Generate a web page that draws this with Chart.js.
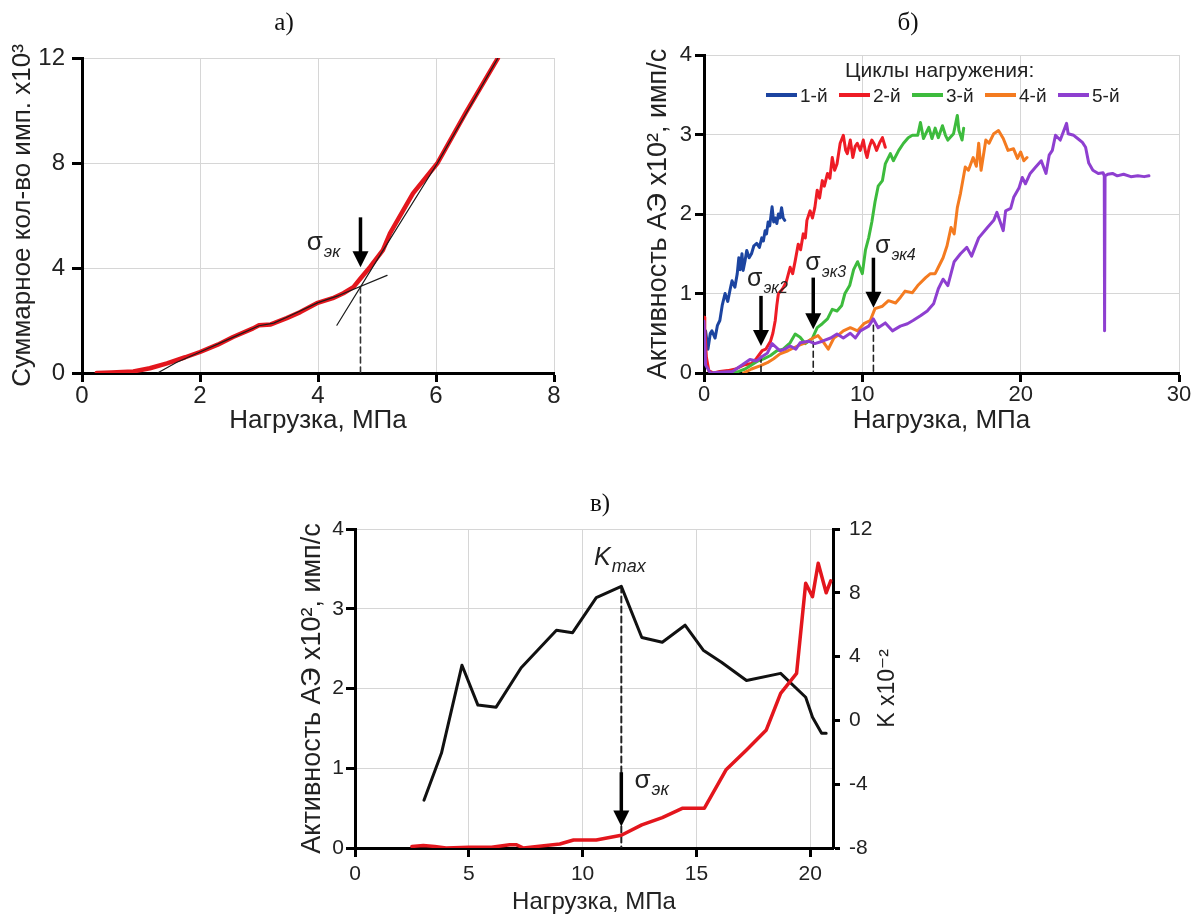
<!DOCTYPE html>
<html lang="ru">
<head>
<meta charset="utf-8">
<title>Акустическая эмиссия</title>
<script src="https://cdn.jsdelivr.net/npm/chart.js@4.4.1/dist/chart.umd.min.js"></script>
<style>
  body { margin: 0; background: #fff; }
  #page { position: relative; width: 1192px; height: 917px; overflow: hidden; }
  #page canvas { position: absolute; left: 0; top: 0; }
  .panel-tag { position: absolute; font-family: "Liberation Serif", "Times New Roman", serif; font-size: 25px; color: #111; transform: translate(-50%, -50%); }
</style>
</head>
<body>
<div id="page">
  <canvas id="chart-a" width="1192" height="917"></canvas>
  <canvas id="chart-b" width="1192" height="917"></canvas>
  <canvas id="chart-c" width="1192" height="917"></canvas>
  <div class="panel-tag" style="left:284px; top:22px">а)</div>
  <div class="panel-tag" style="left:908px; top:22px">б)</div>
  <div class="panel-tag" style="left:600px; top:503px">в)</div>
</div>
<script>
const SANS = '"Liberation Sans", Arial, "DejaVu Sans", sans-serif';

// а) суммарное кол-во импульсов
const loadA = [0.25, 0.5, 0.87, 1.15, 1.44, 1.75, 2.0, 2.3, 2.56, 2.9, 3.0, 3.2, 3.47, 3.7, 3.98, 4.25, 4.43, 4.6, 4.72, 4.88, 5.1, 5.22, 5.61, 6.02, 6.5, 7.05];
const countA = [0, 0.02, 0.06, 0.18, 0.37, 0.6, 0.8, 1.08, 1.37, 1.7, 1.82, 1.85, 2.09, 2.32, 2.66, 2.85, 3.04, 3.27, 3.6, 4.03, 4.68, 5.32, 6.84, 7.98, 9.9, 12];
const fitLoadA = [1.28, 1.6, 2.0, 2.5, 3.0, 3.25, 3.5, 4.0, 4.35, 5.17];
const fitCountA = [0, 0.4, 0.8, 1.3, 1.8, 1.9, 2.15, 2.68, 2.95, 3.72];
const tangentLoadA = [4.32, 5.0, 6.02, 7.05];
const tangentCountA = [1.82, 4.3, 7.98, 12];
const markLoadA = [4.72, 4.72];
const markCountA = [0, 3.3];
const xTicksA = [0, 2, 4, 6, 8];
const yTicksA = [0, 4, 8, 12];

// б) активность АЭ по циклам нагружения
const cycleNames = ['1-й', '2-й', '3-й', '4-й', '5-й'];
const cycle1Load = [0, 0.1, 0.25, 0.4, 0.5, 0.7, 0.85, 1.0, 1.15, 1.33, 1.5, 1.65, 1.77, 1.95, 2.1, 2.2, 2.28, 2.4, 2.47, 2.6, 2.7, 2.85, 3.0, 3.15, 3.33, 3.5, 3.65, 3.75, 3.86, 3.95, 4.05, 4.15, 4.3, 4.4, 4.5, 4.6, 4.7, 4.8, 4.9, 5.0, 5.1];
const cycle1Rate = [0.3, 0.53, 0.3, 0.5, 0.53, 0.44, 0.6, 0.66, 0.85, 1.0, 0.9, 1.05, 1.16, 1.08, 1.25, 1.45, 1.3, 1.5, 1.29, 1.42, 1.54, 1.45, 1.5, 1.6, 1.63, 1.58, 1.7, 1.66, 1.79, 1.75, 1.9, 1.85, 2.09, 1.9, 1.95, 1.88, 2.0, 1.95, 2.08, 1.95, 1.92];
const cycle2Load = [0, 0.05, 0.15, 0.3, 0.6, 1.0, 1.5, 2.0, 2.5, 3.0, 3.3, 3.67, 3.9, 4.2, 4.35, 4.5, 4.6, 4.7, 4.85, 5.0, 5.2, 5.44, 5.6, 5.76, 5.95, 6.1, 6.27, 6.4, 6.5, 6.7, 6.85, 7.0, 7.15, 7.3, 7.47, 7.6, 7.8, 7.95, 8.1, 8.25, 8.4, 8.6, 8.8, 8.95, 9.05, 9.24, 9.4, 9.55, 9.68, 9.87, 10.06, 10.2, 10.3, 10.45, 10.6, 10.75, 10.9, 11.1, 11.27, 11.45];
const cycle2Rate = [0.7, 0.55, 0.2, 0.03, 0.0, 0.02, 0.03, 0.05, 0.1, 0.12, 0.18, 0.28, 0.3, 0.4, 0.5, 0.66, 0.85, 1.0, 1.03, 1.07, 1.15, 1.33, 1.25, 1.41, 1.62, 1.55, 1.75, 1.7, 1.92, 2.04, 1.95, 2.08, 2.3, 2.2, 2.42, 2.35, 2.51, 2.45, 2.71, 2.55, 2.63, 2.89, 2.99, 2.8, 2.76, 2.93, 2.71, 2.85, 2.89, 2.8, 2.93, 2.78, 2.71, 2.85, 2.93, 2.88, 2.8, 2.9, 2.96, 2.84];
const cycle3Load = [1.8, 2.2, 2.6, 3.0, 3.4, 3.8, 4.2, 4.6, 5.0, 5.44, 5.76, 6.07, 6.4, 6.83, 7.15, 7.47, 7.8, 8.1, 8.4, 8.7, 8.9, 9.2, 9.45, 9.7, 10.0, 10.2, 10.4, 10.6, 10.8, 11.0, 11.27, 11.45, 11.77, 11.96, 12.3, 12.6, 12.9, 13.16, 13.5, 13.67, 13.86, 14.2, 14.4, 14.6, 14.8, 15.06, 15.25, 15.4, 15.76, 16.0, 16.1, 16.3, 16.4];
const cycle3Rate = [0.0, 0.02, 0.05, 0.1, 0.15, 0.18, 0.22, 0.28, 0.3, 0.38, 0.49, 0.45, 0.37, 0.43, 0.57, 0.62, 0.68, 0.8, 0.78, 0.85, 1.0, 1.1, 1.3, 1.4, 1.25, 1.55, 1.7, 1.9, 2.15, 2.35, 2.42, 2.63, 2.76, 2.67, 2.8, 2.89, 2.96, 2.99, 2.99, 3.15, 2.95, 3.09, 2.95, 3.08, 2.96, 3.11, 2.99, 2.93, 3.01, 3.24, 3.05, 2.93, 3.08];
const cycle4Load = [2.5, 3.0, 3.54, 4.0, 4.4, 4.8, 5.3, 5.9, 6.4, 6.9, 7.2, 7.5, 7.85, 8.2, 8.5, 8.8, 9.24, 9.7, 10.1, 10.5, 10.8, 11.27, 11.65, 12.1, 12.4, 12.7, 13.16, 13.5, 14.0, 14.3, 14.6, 14.8, 15.1, 15.35, 15.6, 15.8, 16.0, 16.2, 16.5, 16.7, 17.0, 17.2, 17.35, 17.5, 17.8, 18.0, 18.3, 18.6, 18.9, 19.2, 19.55, 19.8, 20.0, 20.2, 20.4];
const cycle4Rate = [0.0, 0.05, 0.09, 0.13, 0.18, 0.24, 0.28, 0.34, 0.38, 0.44, 0.47, 0.4, 0.3, 0.44, 0.48, 0.53, 0.57, 0.53, 0.62, 0.66, 0.81, 0.84, 0.91, 0.88, 0.95, 1.03, 1.01, 1.1, 1.2, 1.25, 1.25, 1.33, 1.45, 1.6, 1.83, 1.75, 2.08, 2.26, 2.59, 2.55, 2.71, 2.6, 2.89, 2.55, 2.93, 2.89, 3.01, 3.05, 2.95, 2.8, 2.82, 2.7, 2.78, 2.67, 2.71];
const cycle5Load = [0, 0.1, 0.4, 1.0, 1.8, 2.4, 2.9, 3.3, 3.7, 4.0, 4.3, 4.8, 5.1, 5.44, 5.8, 6.07, 6.6, 7.0, 7.47, 8.0, 8.4, 8.8, 9.24, 9.56, 9.87, 10.4, 10.7, 11.0, 11.45, 11.9, 12.4, 12.85, 13.2, 13.67, 14.1, 14.5, 14.8, 15.1, 15.4, 15.8, 16.2, 16.6, 16.9, 17.35, 17.9, 18.3, 18.5, 18.9, 19.05, 19.37, 19.56, 19.9, 20.1, 20.3, 20.6, 20.95, 21.3, 21.6, 21.8, 22.0, 22.2, 22.5, 22.9, 23.0, 23.35, 23.6, 23.9, 24.1, 24.3, 24.56, 24.9, 25.2, 25.28, 25.3, 25.33, 25.5, 25.8, 26.1, 26.5, 26.96, 27.4, 27.8, 28.1];
const cycle5Rate = [0.65, 0.1, 0.0, 0.01, 0.02, 0.1, 0.17, 0.15, 0.21, 0.25, 0.37, 0.28, 0.3, 0.34, 0.3, 0.38, 0.4, 0.37, 0.4, 0.44, 0.49, 0.44, 0.5, 0.44, 0.53, 0.59, 0.68, 0.57, 0.63, 0.53, 0.59, 0.62, 0.66, 0.72, 0.78, 0.87, 1.06, 1.18, 1.1, 1.4, 1.5, 1.58, 1.47, 1.7, 1.83, 1.92, 2.02, 1.79, 2.04, 2.07, 2.21, 2.33, 2.46, 2.38, 2.51, 2.59, 2.67, 2.51, 2.74, 2.8, 2.99, 2.93, 3.14, 3.01, 2.99, 2.95, 2.9, 2.84, 2.64, 2.55, 2.51, 2.52, 2.48, 0.53, 2.48, 2.5, 2.51, 2.48, 2.5, 2.47, 2.48, 2.47, 2.48];
const critLoadB = [3.6, 6.9, 10.7];
const critFootB = [0.21, 0.4, 0.6];
const critArrowTopB = [0.97, 1.2, 1.45];
const critArrowTipB = [0.34, 0.55, 0.82];
const xTicksB = [0, 10, 20, 30];
const yTicksB = [0, 1, 2, 3, 4];

// в) активность АЭ и коэффициент K
const loadK = [3.03, 3.8, 4.7, 5.4, 6.2, 7.3, 8.85, 9.56, 10.6, 11.7, 12.6, 13.5, 14.5, 15.3, 16.1, 17.2, 18.7, 19.8, 20.1, 20.5, 20.7];
const kValues = [-5.0, -2.05, 3.46, 0.96, 0.83, 3.3, 5.65, 5.5, 7.7, 8.4, 5.2, 4.9, 5.97, 4.4, 3.65, 2.5, 2.95, 1.45, 0.2, -0.8, -0.8];
const loadAE = [2.5, 3.0, 3.5, 4.0, 5.0, 6.0, 6.8, 7.1, 7.4, 8.0, 9.0, 9.6, 10.6, 11.7, 12.6, 13.5, 14.4, 15.35, 16.3, 17.2, 18.07, 18.7, 19.4, 19.8, 20.1, 20.35, 20.7, 20.9];
const activityAE = [0.02, 0.03, 0.02, 0.0, 0.01, 0.01, 0.04, 0.04, 0.0, 0.02, 0.05, 0.1, 0.1, 0.16, 0.29, 0.38, 0.5, 0.5, 0.98, 1.23, 1.48, 1.94, 2.19, 3.32, 3.15, 3.57, 3.2, 3.35];
const kMaxLoad = [11.7, 11.7];
const kMaxLine = [8.4, -8];
const xTicksC = [0, 5, 10, 15, 20];
const xMaxC = 21;
const yTicksC = [0, 1, 2, 3, 4];
const kTicksC = [-8, -4, 0, 4, 8, 12];

function pts(xs, ys) {
  return xs.map((x, i) => ({ x: x, y: ys[i] }));
}

function font(size, style) {
  return (style ? style + ' ' : '') + size + 'px ' + SANS;
}

function linearAxis(cfg) {
  return {
    type: 'linear',
    position: cfg.position,
    min: cfg.ticks[0],
    max: cfg.max !== undefined ? cfg.max : cfg.ticks[cfg.ticks.length - 1],
    afterBuildTicks: s => { s.ticks = cfg.ticks.map(v => ({ value: v })); },
    afterFit: s => {
      if (s.isHorizontal()) s.height = cfg.size;
      else s.width = cfg.size;
    },
    grid: {
      drawOnChartArea: cfg.grid !== false,
      color: '#d6d6d6',
      lineWidth: 1,
      tickColor: '#000',
      tickWidth: 3,
      tickLength: cfg.tickLength || 9
    },
    border: { color: '#000', width: 3 },
    ticks: { font: { family: SANS, size: cfg.tickSize || 21 }, color: '#222', padding: cfg.tickPad, maxRotation: 0, autoSkip: false },
    title: { display: !!cfg.title, text: cfg.title, font: { family: SANS, size: cfg.titleSize || 23 }, color: '#222', padding: 0 }
  };
}

function drawArrow(ctx, x, yTop, yTip) {
  const head = 16;
  const half = 8;
  ctx.strokeStyle = '#000';
  ctx.fillStyle = '#000';
  ctx.lineWidth = 3.5;
  ctx.beginPath();
  ctx.moveTo(x, yTop);
  ctx.lineTo(x, yTip - head + 2);
  ctx.stroke();
  ctx.beginPath();
  ctx.moveTo(x - half, yTip - head);
  ctx.lineTo(x + half, yTip - head);
  ctx.lineTo(x, yTip);
  ctx.closePath();
  ctx.fill();
}

function drawNote(ctx, x, y, n) {
  ctx.fillStyle = '#222';
  ctx.textAlign = 'left';
  ctx.textBaseline = 'alphabetic';
  ctx.font = font(n.size || 26, n.italic ? 'italic' : '');
  ctx.fillText(n.main, x, y);
  const w = ctx.measureText(n.main).width;
  ctx.font = font(n.subSize || 17, 'italic');
  ctx.fillText(n.sub, x + w + 1, y + 7);
}

function drawLegend(ctx, chart, lg) {
  const area = chart.chartArea;
  ctx.fillStyle = '#222';
  ctx.textAlign = 'left';
  ctx.textBaseline = 'alphabetic';
  ctx.font = font(21);
  ctx.fillText(lg.title, area.left + lg.titleDx, area.top + lg.titleDy);
  ctx.font = font(19);
  chart.data.datasets.forEach((ds, i) => {
    if (!ds.label) return;
    const x0 = area.left + lg.dx + i * lg.step;
    const y0 = area.top + lg.dy;
    ctx.strokeStyle = ds.borderColor;
    ctx.lineWidth = 4;
    ctx.beginPath();
    ctx.moveTo(x0, y0);
    ctx.lineTo(x0 + 31, y0);
    ctx.stroke();
    ctx.fillText(ds.label, x0 + 34, y0 + 7);
  });
}

const marks = {
  id: 'marks',
  afterDatasetsDraw(chart, args, opts) {
    const ctx = chart.ctx;
    const xs = chart.scales.x;
    ctx.save();
    (opts.arrows || []).forEach(a => {
      const ys = chart.scales[a.axis || 'y'];
      drawArrow(ctx, xs.getPixelForValue(a.x), ys.getPixelForValue(a.from), ys.getPixelForValue(a.to));
    });
    (opts.notes || []).forEach(n => {
      const ys = chart.scales[n.axis || 'y'];
      drawNote(ctx, xs.getPixelForValue(n.x), ys.getPixelForValue(n.y), n);
    });
    if (opts.legend) drawLegend(ctx, chart, opts.legend);
    if (opts.sideTitle) {
      const area = chart.chartArea;
      ctx.translate(area.right + opts.sideTitle.dx, (area.top + area.bottom) / 2);
      ctx.rotate(-Math.PI / 2);
      ctx.textAlign = 'center';
      ctx.textBaseline = 'middle';
      ctx.fillStyle = '#222';
      ctx.font = font(23);
      ctx.fillText(opts.sideTitle.text, 0, 0);
    }
    ctx.restore();
  }
};

function options(padding, scales, marksOpts) {
  return {
    responsive: false,
    animation: false,
    devicePixelRatio: 1,
    events: [],
    layout: { padding: padding },
    elements: {
      point: { radius: 0 },
      line: { tension: 0, fill: false, borderCapStyle: 'round', borderJoinStyle: 'round' }
    },
    scales: scales,
    plugins: { legend: { display: false }, tooltip: { enabled: false }, marks: marksOpts }
  };
}

// а)
new Chart(document.getElementById('chart-a'), {
  type: 'line',
  plugins: [marks],
  data: {
    datasets: [
      { data: pts(fitLoadA, fitCountA), borderColor: '#1b1b1b', borderWidth: 1.2 },
      { data: pts(tangentLoadA, tangentCountA), borderColor: '#1b1b1b', borderWidth: 1.2 },
      { data: pts(markLoadA, markCountA), borderColor: '#333', borderWidth: 1.6, borderDash: [6, 4] },
      { data: pts(loadA, countA), borderColor: '#e3161d', borderWidth: 4.5 }
    ]
  },
  options: options({ left: 7, top: 58, right: 638, bottom: 481 }, {
    x: linearAxis({ position: 'bottom', ticks: xTicksA, size: 63, tickPad: 0, tickSize: 24, titleSize: 26, title: 'Нагрузка, МПа' }),
    y: linearAxis({ position: 'left', ticks: yTicksA, size: 75, tickPad: 7, tickLength: 10, tickSize: 24, titleSize: 26, title: 'Суммарное кол-во имп. x10³' })
  }, {
    arrows: [{ x: 4.72, from: 5.93, to: 4.03 }],
    notes: [{ x: 3.81, y: 4.68, main: 'σ', sub: 'эк' }]
  })
});

// б)
const cycleLoads = [cycle1Load, cycle2Load, cycle3Load, cycle4Load, cycle5Load];
const cycleRates = [cycle1Rate, cycle2Rate, cycle3Rate, cycle4Rate, cycle5Rate];
const cycleColors = ['#1c44a0', '#ee1c25', '#3dbb3d', '#f47b20', '#8e3fd0'];

const datasetsB = cycleNames.map((name, i) => ({
  label: name,
  data: pts(cycleLoads[i], cycleRates[i]),
  borderColor: cycleColors[i],
  borderWidth: 3,
  order: 4 - i
}));
critLoadB.forEach((x, i) => {
  datasetsB.push({ data: pts([x, x], [critFootB[i], 0]), borderColor: '#222', borderWidth: 1.6, borderDash: [6, 4], order: 0 });
});

new Chart(document.getElementById('chart-b'), {
  type: 'line',
  plugins: [marks],
  data: { datasets: datasetsB },
  options: options({ left: 642, top: 55, right: 13, bottom: 481 }, {
    x: linearAxis({ position: 'bottom', ticks: xTicksB, size: 63, tickPad: 0, tickSize: 22, titleSize: 26, title: 'Нагрузка, МПа' }),
    y: linearAxis({ position: 'left', ticks: yTicksB, size: 62, tickPad: 3, tickSize: 22, titleSize: 27, title: 'Активность АЭ x10², имп/с' })
  }, {
    arrows: critLoadB.map((x, i) => ({ x: x, from: critArrowTopB[i], to: critArrowTipB[i] })),
    notes: [
      { x: 2.72, y: 1.1, main: 'σ', sub: 'эк2', size: 25, subSize: 16 },
      { x: 6.4, y: 1.29, main: 'σ', sub: 'эк3', size: 25, subSize: 16 },
      { x: 10.8, y: 1.51, main: 'σ', sub: 'эк4', size: 25, subSize: 16 }
    ],
    legend: { title: 'Циклы нагружения:', titleDx: 141, titleDy: 22, dx: 62, dy: 40, step: 73 }
  })
});

// в)
new Chart(document.getElementById('chart-c'), {
  type: 'line',
  plugins: [marks],
  data: {
    datasets: [
      { data: pts(loadAE, activityAE), borderColor: '#e3161d', borderWidth: 3.5, yAxisID: 'y' },
      { data: pts(loadK, kValues), borderColor: '#111', borderWidth: 3, yAxisID: 'y2' },
      { data: pts(kMaxLoad, kMaxLine), borderColor: '#222', borderWidth: 2, borderDash: [6, 4], yAxisID: 'y2' }
    ]
  },
  options: options({ left: 296, top: 529, right: 289, bottom: 0 }, {
    x: linearAxis({ position: 'bottom', ticks: xTicksC, max: xMaxC, size: 69, tickPad: 5, titleSize: 24, title: 'Нагрузка, МПа' }),
    y: linearAxis({ position: 'left', ticks: yTicksC, size: 59, tickPad: 2, tickLength: 9, titleSize: 27, title: 'Активность АЭ x10², имп/с' }),
    y2: linearAxis({ position: 'right', ticks: kTicksC, size: 70, tickPad: 9, tickLength: 7, grid: false })
  }, {
    arrows: [{ x: 11.7, from: 0.95, to: 0.27 }],
    notes: [
      { x: 12.28, y: 0.75, main: 'σ', sub: 'эк', size: 26, subSize: 18 },
      { x: 10.5, y: 3.55, main: 'K', sub: 'max', size: 25, subSize: 18, italic: true }
    ],
    sideTitle: { text: 'K x10⁻²', dx: 55 }
  })
});
</script>
</body>
</html>
